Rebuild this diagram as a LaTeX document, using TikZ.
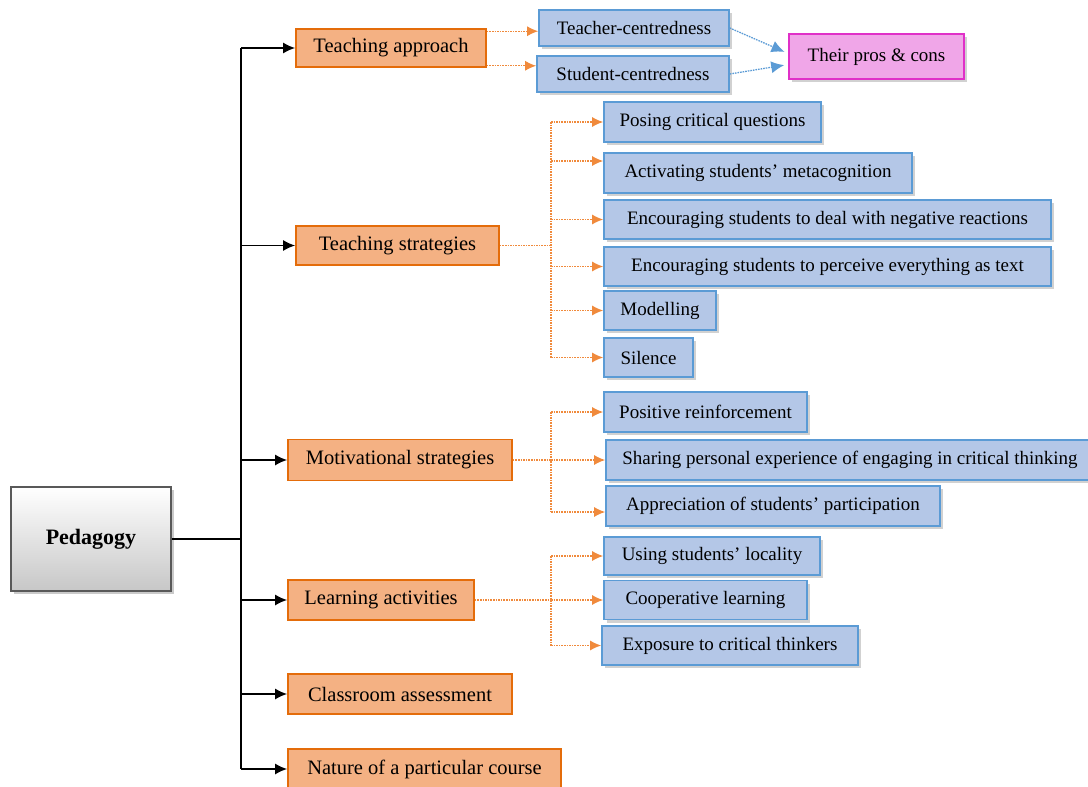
\documentclass[tikz,border=0pt]{standalone}
\usepackage{fontspec}
\setmainfont{Liberation Serif}
\usetikzlibrary{shadows,arrows.meta}

\definecolor{orangeline}{HTML}{E46C0A}
\definecolor{orangefill}{HTML}{F4B183}
\definecolor{orangedot}{HTML}{F08A3C}
\definecolor{blueline}{HTML}{5B9BD5}
\definecolor{bluefill}{HTML}{B4C7E7}
\definecolor{pinkline}{HTML}{E030C8}
\definecolor{pinkfill}{HTML}{F0A6E8}

\tikzset{
  obox/.style={draw=orangeline, fill=orangefill, line width=1.6pt, inner sep=0pt,
    font=\fontsize{20.5}{24}\selectfont},
  bbox/.style={draw=blueline, fill=bluefill, line width=1.6pt, inner sep=0pt,
    font=\fontsize{19}{23}\selectfont,
    drop shadow={shadow xshift=3pt, shadow yshift=-3pt, opacity=0.3, fill=black!60}},
  oline/.style={draw=orangedot, dash pattern=on 1.6pt off 1pt, line width=1.3pt},
  oarrow/.style={oline, -{Latex[length=11pt,width=10pt]}},
  barrow/.style={draw=blueline, dash pattern=on 1.6pt off 1pt, line width=1.3pt, -{Latex[length=13pt,width=12pt]}},
  kline/.style={draw=black, line width=1.8pt},
  karrow/.style={kline, -{Latex[length=12pt,width=11pt]}}
}

\begin{document}
\begin{tikzpicture}[x=1pt, y=-1pt]
    \useasboundingbox (0,0) rectangle (1088,787);

    %root box
    \node[draw=black!65, line width=1.6pt, top color=white, bottom color=black!22,
      minimum width=160pt, minimum height=104pt, inner sep=0pt,
      font=\fontsize{22}{26}\selectfont\bfseries,
      drop shadow={shadow xshift=3pt, shadow yshift=-3pt, opacity=0.35, fill=black!60}]
      (ped) at (91,539) {\raisebox{5pt}{Pedagogy}};

    %main branches
    \node[obox, minimum width=190pt, minimum height=38pt] (tapp) at (391,48) {Teaching approach};
    \node[obox, minimum width=203pt, minimum height=39pt] (tstr) at (397.5,245.5) {Teaching strategies};
    \node[obox, minimum width=224pt, minimum height=41pt] (mot) at (400,460) {Motivational strategies};
    \node[obox, minimum width=186pt, minimum height=40pt] (learn) at (381,600) {Learning activities};
    \node[obox, minimum width=224pt, minimum height=40pt] (class) at (400,694) {Classroom assessment};
    \node[obox, minimum width=273pt, minimum height=40pt] (nature) at (424.5,769) {Nature of a particular course};

    %teaching approach
    \node[bbox, minimum width=190pt, minimum height=36pt] (teacher) at (634,28) {Teacher-centredness};
    \node[bbox, minimum width=192pt, minimum height=36pt] (student) at (633,74) {Student-centredness};
    \node[draw=pinkline, fill=pinkfill, line width=1.6pt, inner sep=0pt,
      minimum width=175pt, minimum height=45pt, font=\fontsize{19}{23}\selectfont,
      drop shadow={shadow xshift=3pt, shadow yshift=-3pt, opacity=0.3, fill=black!60}]
      (pros) at (876.5,56.5) {Their pros \& cons};

    %teaching strategies
    \node[bbox, minimum width=217pt, minimum height=40pt] (posing) at (712.5,122) {Posing critical questions};
    \node[bbox, minimum width=308pt, minimum height=40pt] (activ) at (758,173) {Activating students' metacognition};
    \node[bbox, minimum width=447pt, minimum height=39pt] (negreact) at (827.5,219.5) {Encouraging students to deal with negative reactions};
    \node[bbox, minimum width=447pt, minimum height=39pt] (astext) at (827.5,266.5) {Encouraging students to perceive everything as text};
    \node[bbox, minimum width=112pt, minimum height=39pt] (model) at (660,310.5) {Modelling};
    \node[bbox, minimum width=89pt, minimum height=39pt] (silence) at (648.5,357.5) {Silence};

    %motivational strategies
    \node[bbox, minimum width=203pt, minimum height=40pt] (positive) at (705.5,412) {Positive reinforcement};
    \node[bbox, minimum width=488pt, minimum height=40pt] (sharing) at (850,460) {Sharing personal experience of engaging in critical thinking};
    \node[bbox, minimum width=334pt, minimum height=40pt] (appr) at (773,506) {Appreciation of students' participation};

    %learning activities
    \node[bbox, minimum width=216pt, minimum height=38pt] (using) at (712,556) {Using students' locality};
    \node[bbox, minimum width=203pt, minimum height=39pt] (coop) at (705.5,600) {Cooperative learning};
    \node[bbox, minimum width=256pt, minimum height=39pt] (expo) at (730,645.5) {Exposure to critical thinkers};

    %black tree
    \coordinate (spine) at (241,0);
    \draw[kline] (ped.east) -- (spine |- ped.east);
    \draw[kline] (spine |- tapp.west) -- (spine |- nature.west);
    \foreach \n in {tapp,tstr,mot,learn,class,nature}
      \draw[karrow] (spine |- \n.west) -- (\n.west);

    %orange branches
    \coordinate (branch) at (551,0);
    \coordinate (ta1) at ([yshift=-3pt]tapp.north east);
    \coordinate (ta2) at ([yshift=2pt]tapp.south east);
    \draw[oarrow] (ta1) -- (ta1 -| teacher.west);
    \draw[oarrow] (ta2) -- (ta2 -| student.west);

    \coordinate (activin) at ([yshift=12pt]activ.west);
    \draw[oline] (tstr.east) -- (branch |- tstr.east);
    \draw[oline] (branch |- posing.west) -- (branch |- silence.west);
    \draw[oarrow] (branch |- activin) -- (activin);
    \foreach \n in {posing,negreact,astext,model,silence}
      \draw[oarrow] (branch |- \n.west) -- (\n.west);

    \coordinate (apprin) at ([yshift=-6pt]appr.west);
    \draw[oline] (mot.east) -- (branch |- mot.east);
    \draw[oline] (branch |- positive.west) -- (branch |- apprin);
    \draw[oarrow] (branch |- apprin) -- (apprin);
    \foreach \n in {positive,sharing}
      \draw[oarrow] (branch |- \n.west) -- (\n.west);

    \draw[oline] (learn.east) -- (branch |- learn.east);
    \draw[oline] (branch |- using.west) -- (branch |- expo.west);
    \foreach \n in {using,coop,expo}
      \draw[oarrow] (branch |- \n.west) -- (\n.west);

    %pros and cons
    \draw[barrow, shorten >=4pt] (teacher.east) -- ([yshift=3pt]pros.west);
    \draw[barrow, shorten >=4pt] (student.east) -- ([yshift=-8pt]pros.west);

\end{tikzpicture}
\end{document}
